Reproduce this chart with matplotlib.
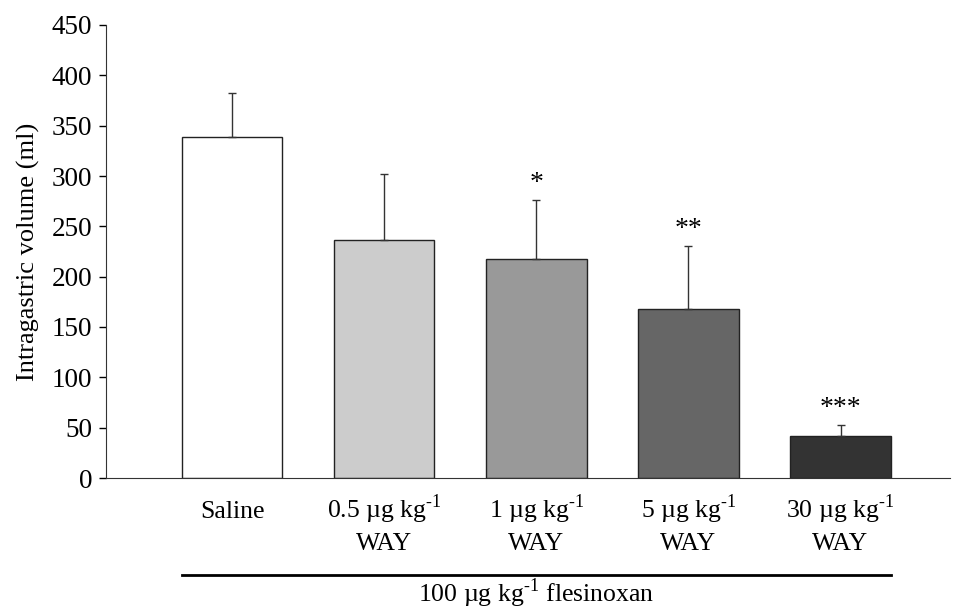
import matplotlib
matplotlib.use('Agg')
import matplotlib.pyplot as plt

# ===== DANE =====
line1 = ["Saline", "0.5 µg kg$^{\\text{-1}}$", "1 µg kg$^{\\text{-1}}$",
         "5 µg kg$^{\\text{-1}}$", "30 µg kg$^{\\text{-1}}$"]
line2 = ["", "WAY", "WAY", "WAY", "WAY"]
means = [339, 236, 218, 168, 42]
sem = [43, 66, 58, 62, 11]
stars = ["", "", "*", "**", "***"]
colors = ["#ffffff", "#cccccc", "#999999", "#666666", "#333333"]
yticks = [0, 50, 100, 150, 200, 250, 300, 350, 400, 450]

plt.rcParams['font.family'] = ['Liberation Serif', 'DejaVu Serif']
plt.rcParams['mathtext.fontset'] = 'custom'
plt.rcParams['mathtext.rm'] = 'Liberation Serif'

fig = plt.figure(figsize=(9.56, 6.11), dpi=100)
ax = fig.add_axes([106/956, 1-478/611, (950-106)/956, (478-25)/611])

x = list(range(len(means)))
ax.bar(x, means, width=0.66, color=colors, edgecolor='#222222', linewidth=1.0, zorder=2)
ax.errorbar(x, means, yerr=[[0]*len(sem), sem], fmt='none', ecolor='#333333',
            elinewidth=1.0, capsize=3, capthick=1.0, zorder=3)

for xi, m, s, st in zip(x, means, sem, stars):
    if st:
        ax.text(xi, m + s + 4, st, ha='center', va='bottom', fontsize=20)

ax.set_xlim(-0.83, 4.72)
ax.set_ylim(0, 450)
ax.set_yticks(yticks)
ax.tick_params(axis='y', direction='out', length=5, width=1, labelsize=19.5, pad=5)
ax.set_xticks([])
ax.spines['top'].set_visible(False)
ax.spines['right'].set_visible(False)
ax.spines['left'].set_color('#333333')
ax.spines['bottom'].set_color('#333333')
ax.set_ylabel("Intragastric volume (ml)", fontsize=19, labelpad=8)

# podpisy kategorii (przeliczenie pikseli na ulamek osi)
def ypos(py):
    return (478 - py) / 453

tr = ax.get_xaxis_transform()
for xi, a, b in zip(x, line1, line2):
    ax.text(xi, ypos(518), a, transform=tr, ha='center', va='baseline', fontsize=18.5)
    if b:
        ax.text(xi, ypos(550), b, transform=tr, ha='center', va='baseline', fontsize=18.5)

# linia grupy flesinoxan
ax.plot([-0.33, 4.33], [ypos(575), ypos(575)], transform=tr,
        color='black', linewidth=2, clip_on=False)
ax.text(2, ypos(602), "100 µg kg$^{\\text{-1}}$ flesinoxan", transform=tr,
        ha='center', va='baseline', fontsize=18.5)

plt.savefig("out.png", dpi=100)
